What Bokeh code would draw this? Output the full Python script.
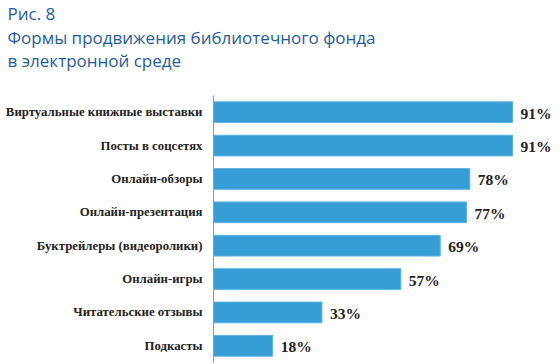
from bokeh.plotting import figure
from bokeh.models import Title, ColumnDataSource, FactorRange, Range1d
from bokeh.core.properties import value
from bokeh.embed import file_html
from bokeh.resources import INLINE

categories = ["Виртуальные книжные выставки", "Посты в соцсетях", "Онлайн-обзоры",
              "Онлайн-презентация", "Буктрейлеры (видеоролики)", "Онлайн-игры",
              "Читательские отзывы", "Подкасты"]
values = [91, 91, 78, 77, 69, 57, 33, 18]
labels = [f"{v}%" for v in values]
title_lines = ["Рис. 8", "Формы продвижения библиотечного фонда", "в электронной среде"]

src = ColumnDataSource(dict(cat=categories, val=values, lab=labels))

p = figure(width=560, height=364, output_backend="svg", toolbar_location=None,
           y_range=FactorRange(factors=categories[::-1], range_padding=0),
           x_range=Range1d(0, 105.6),
           min_border_left=213, min_border_right=0, min_border_bottom=2, min_border_top=95)

p.hbar(y="cat", right="val", height=0.62, source=src, fill_color="#379dd7",
       line_color="#5cb3e3", line_width=1)
p.text(x="val", y="cat", text="lab", source=src, x_offset=8, y_offset=1,
       text_baseline="middle", text_align="left", text_font=value("Liberation Serif"),
       text_font_style="bold", text_font_size="15.5px", text_color="#222222")

p.xaxis.visible = False
p.xgrid.visible = False
p.ygrid.visible = False
p.outline_line_color = None
ax = p.yaxis[0]
ax.axis_line_color = "#9a9a9a"
ax.major_tick_line_color = None
ax.minor_tick_line_color = None
ax.major_label_standoff = 5
ax.major_label_text_font = "Liberation Serif"
ax.major_label_text_font_style = "bold"
ax.major_label_text_font_size = "12.8px"
ax.major_label_text_color = "#222222"

p.add_layout(Title(text="\n".join(title_lines + ["\u00a0"]), align="left", offset=-206,
                   text_font="Open Sans", text_font_style="normal",
                   text_font_size="17px", text_line_height=1.02,
                   text_color="#1f5c9f", standoff=0), "above")

open("out.html", "w").write(file_html(p, INLINE))
